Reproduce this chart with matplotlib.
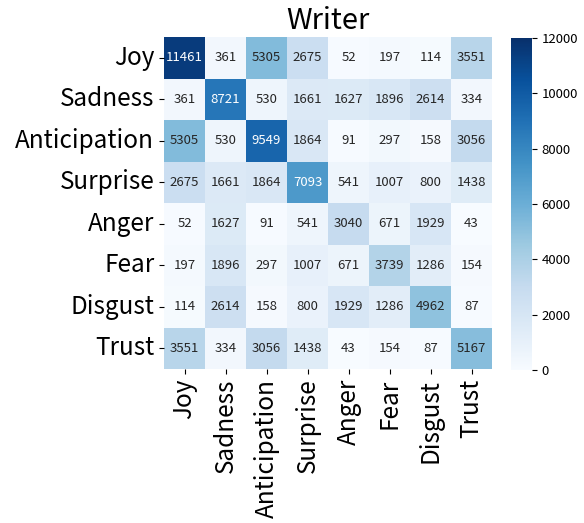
import numpy as np
import matplotlib
matplotlib.use("Agg")
import matplotlib.pyplot as plt
import seaborn as sns

plt.rcParams['font.family'] = ['Noto Sans CJK JP', 'DejaVu Sans']

labels = ["Joy", "Sadness", "Anticipation", "Surprise", "Anger", "Fear", "Disgust", "Trust"]
row_joy = [11461, 361, 5305, 2675, 52, 197, 114, 3551]
row_sadness = [361, 8721, 530, 1661, 1627, 1896, 2614, 334]
row_anticipation = [5305, 530, 9549, 1864, 91, 297, 158, 3056]
row_surprise = [2675, 1661, 1864, 7093, 541, 1007, 800, 1438]
row_anger = [52, 1627, 91, 541, 3040, 671, 1929, 43]
row_fear = [197, 1896, 297, 1007, 671, 3739, 1286, 154]
row_disgust = [114, 2614, 158, 800, 1929, 1286, 4962, 87]
row_trust = [3551, 334, 3056, 1438, 43, 154, 87, 5167]
title = "Writer"

data = np.array([row_joy, row_sadness, row_anticipation, row_surprise,
                 row_anger, row_fear, row_disgust, row_trust])

fig = plt.figure(figsize=(5.84, 5.23), dpi=100)
ax = fig.add_axes([164/584, 1-369/523, (492-164)/584, (369-37)/523])
cax = fig.add_axes([511/584, 1-370/523, (532-511)/584, (370-38)/523])

sns.heatmap(data, ax=ax, cbar_ax=cax, cmap="Blues", vmin=0, vmax=12000,
            annot=True, fmt="d", annot_kws={"fontsize": 9.5},
            xticklabels=labels, yticklabels=labels)
ax.set_title(title, fontsize=21)
ax.set_xticklabels(labels, rotation=90, fontsize=17.5)
ax.set_yticklabels(labels, rotation=0, fontsize=17.5)
cax.tick_params(labelsize=9.5)
fig.savefig("out.png", dpi=100)
